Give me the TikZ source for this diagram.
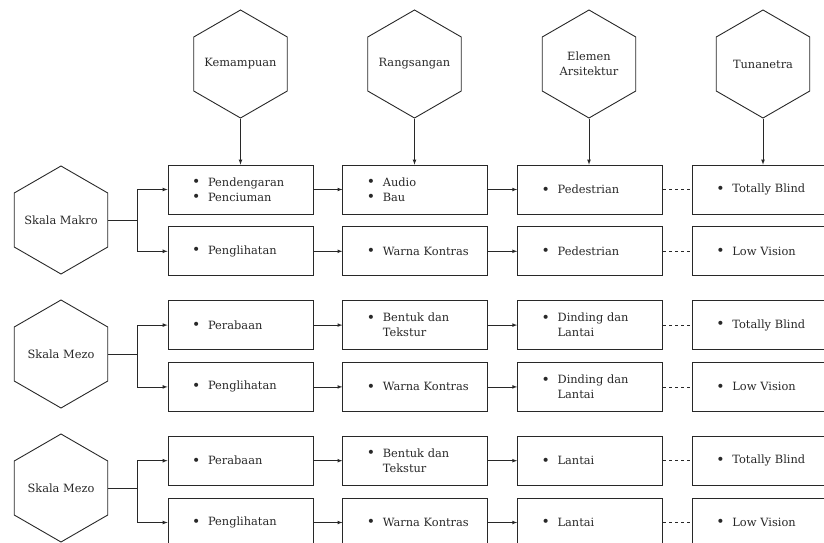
\documentclass[tikz,border=0pt]{standalone}
\usepackage{fontspec}
\setmainfont{DejaVu Serif}
\usepackage{tikz}
\usetikzlibrary{shapes,arrows,positioning}
\definecolor{garis}{RGB}{40,40,40}
\tikzset{segienam/.style={regular polygon, regular polygon sides=6, shape border rotate=30, draw=garis, line width=0.9pt,
 minimum size=108pt, inner xsep=-20pt, inner ysep=0pt, align=center, text=garis, font=\fontsize{11.4}{15}\selectfont}}
\tikzset{kotak/.style={rectangle, draw=garis, line width=0.8pt, minimum width=145pt, minimum height=49pt,
 text width=137pt, inner xsep=4pt, align=left, text=garis, font=\fontsize{11.4}{15}\selectfont}}
\tikzset{line/.style={draw=garis, -latex, line width=0.7pt}}
\tikzset{putus/.style={draw=garis, dash pattern=on 3pt off 3pt, line width=0.7pt}}
\newcommand{\butir}[1]{\hspace*{20pt}\makebox[16pt][l]{\raisebox{-0.5pt}{\fontsize{14}{15}\selectfont\textbullet}}#1}
\newcommand{\lanjut}[1]{\hspace*{36pt}#1}

\begin{document}
\begin{tikzpicture}[x=1pt, y=-1pt]
        \useasboundingbox (0,0) rectangle (824,543);

        % kepala kolom
        \node[segienam] (kmp) at (240.5,64) {Kemampuan};
        \node[segienam] (rgs) at (414.5,64) {Rangsangan};
        \node[segienam] (ars) at (589,64) {Elemen\\Arsitektur};
        \node[segienam] (tun) at (763,64) {Tunanetra};

        % skala
        \node[segienam] (mak) at (61,220) {Skala Makro};
        \node[segienam] (mz1) at (61,354) {Skala Mezo};
        \node[segienam] (mz2) at (61,488) {Skala Mezo};

        % kolom kemampuan
        \node[kotak] (a1) at (240.5,189.5) {\butir{Pendengaran}\\\butir{Penciuman}};
        \node[kotak, below=12pt of a1] (a2) {\butir{Penglihatan}};
        \node[kotak, below=24pt of a2] (a3) {\butir{Perabaan}};
        \node[kotak, below=12pt of a3] (a4) {\butir{Penglihatan}};
        \node[kotak, below=24pt of a4] (a5) {\butir{Perabaan}};
        \node[kotak, below=12pt of a5] (a6) {\butir{Penglihatan}};

        % kolom rangsangan
        \node[kotak, right=29pt of a1] (b1) {\butir{Audio}\\\butir{Bau}};
        \node[kotak, right=29pt of a2] (b2) {\butir{Warna Kontras}};
        \node[kotak, right=29pt of a3] (b3) {\butir{Bentuk dan}\\\lanjut{Tekstur}};
        \node[kotak, right=29pt of a4] (b4) {\butir{Warna Kontras}};
        \node[kotak, right=29pt of a5] (b5) {\butir{Bentuk dan}\\\lanjut{Tekstur}};
        \node[kotak, right=29pt of a6] (b6) {\butir{Warna Kontras}};

        % kolom elemen arsitektur
        \node[kotak, right=29pt of b1] (c1) {\butir{Pedestrian}};
        \node[kotak, right=29pt of b2] (c2) {\butir{Pedestrian}};
        \node[kotak, right=29pt of b3] (c3) {\butir{Dinding dan}\\\lanjut{Lantai}};
        \node[kotak, right=29pt of b4] (c4) {\butir{Dinding dan}\\\lanjut{Lantai}};
        \node[kotak, right=29pt of b5] (c5) {\butir{Lantai}};
        \node[kotak, right=29pt of b6] (c6) {\butir{Lantai}};

        % kolom tunanetra
        \node[kotak, right=29pt of c1] (d1) {\butir{Totally Blind}};
        \node[kotak, right=29pt of c2] (d2) {\butir{Low Vision}};
        \node[kotak, right=29pt of c3] (d3) {\butir{Totally Blind}};
        \node[kotak, right=29pt of c4] (d4) {\butir{Low Vision}};
        \node[kotak, right=29pt of c5] (d5) {\butir{Totally Blind}};
        \node[kotak, right=29pt of c6] (d6) {\butir{Low Vision}};

        \path[line] (kmp.south) -- (kmp.south |- a1.north);
        \path[line] (rgs.south) -- (rgs.south |- b1.north);
        \path[line] (ars.south) -- (ars.south |- c1.north);
        \path[line] (tun.south) -- (tun.south |- d1.north);

        \foreach \h/\p/\q in {mak/a1/a2, mz1/a3/a4, mz2/a5/a6} {
          \draw[draw=garis, line width=0.7pt] (\h.east) -- ++(29,0) coordinate (cab\h);
          \path[line] (cab\h) |- (\p.west);
          \path[line] (cab\h) |- (\q.west);
        }

        \foreach \r in {1,...,6} {
          \path[line]  (a\r) -- (b\r);
          \path[line]  (b\r) -- (c\r);
          \path[putus] (c\r) -- (d\r);
        }
      \end{tikzpicture}
\end{document}
